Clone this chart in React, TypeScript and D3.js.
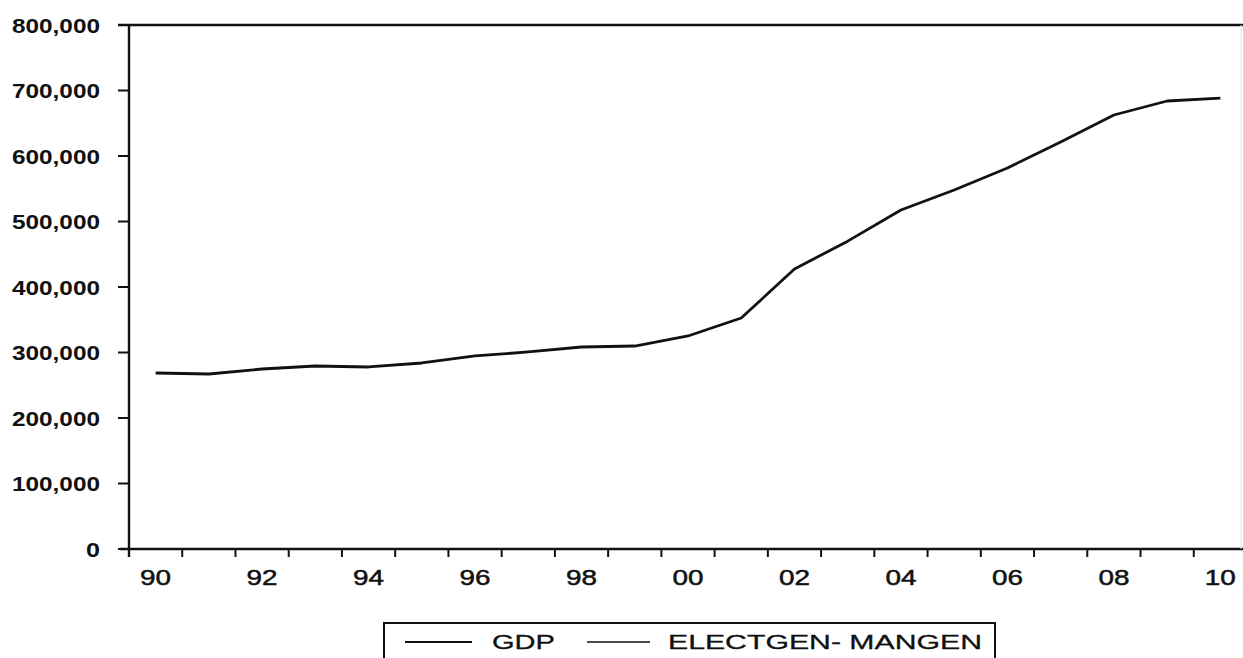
import React from "react";
import * as d3 from "d3";

// annual observations 1990..2010
const years = d3.range(1990, 2011);
const electgen = [
  268700, 267200, 274800, 279400, 277900, 284000, 294700, 300800, 308400, 309900,
  325200, 352700, 427500, 470000, 517500, 548000, 581700, 621400, 662600, 684000, 688500,
];
const yTicks = [0, 100000, 200000, 300000, 400000, 500000, 600000, 700000, 800000];
const xLabelYears = [1990, 1992, 1994, 1996, 1998, 2000, 2002, 2004, 2006, 2008, 2010];
const legendNames = ["GDP", "ELECTGEN- MANGEN"];

const W = 1243;
const H = 658;

const App = () => {
  const x = d3.scaleLinear().domain([1989.5, 2010.5]).range([129, 1247]);
  const y = d3.scaleLinear().domain([0, 800000]).range([549, 25]);
  const fmt = d3.format(",");

  const line = d3
    .line<number>()
    .x((d, i) => x(years[i]))
    .y(d => y(d));

  const top = y(800000);
  const base = y(0);
  const font = "'Liberation Sans', Arial, sans-serif";

  return (
    <svg
      width={W}
      height={H}
      style={{ position: "absolute", left: 0, top: 0, background: "#fff" }}
    >
      {/* frame */}
      <line x1={118} x2={W} y1={top} y2={top} stroke="#111" strokeWidth={2.6} />
      <line x1={129} x2={129} y1={top} y2={base + 8} stroke="#111" strokeWidth={2.4} />
      <line x1={120} x2={W} y1={base} y2={base} stroke="#111" strokeWidth={2.4} />
      <line x1={1241} x2={1241} y1={top} y2={base} stroke="#e4e4e4" strokeWidth={1} />

      {/* y axis */}
      {yTicks.map(t => {
        const label = fmt(t);
        return (
          <g key={t}>
            <line x1={118} x2={129} y1={y(t)} y2={y(t)} stroke="#111" strokeWidth={2} />
            <text
              x={100}
              y={y(t)}
              dy="0.36em"
              textAnchor="end"
              fontFamily={font}
              fontWeight="bold"
              fontSize={21}
              textLength={label.length === 1 ? 14 : 88}
              lengthAdjust="spacingAndGlyphs"
              fill="#111"
            >
              {label}
            </text>
          </g>
        );
      })}

      {/* x axis ticks at year boundaries */}
      {years.slice(0, -1).map(yr => (
        <line
          key={yr}
          x1={x(yr + 0.5)}
          x2={x(yr + 0.5)}
          y1={base}
          y2={base + 8}
          stroke="#111"
          strokeWidth={2}
        />
      ))}
      {xLabelYears.map(yr => (
        <text
          key={yr}
          x={x(yr)}
          y={585}
          textAnchor="middle"
          fontFamily={font}
          fontSize={22}
          textLength={31}
          lengthAdjust="spacingAndGlyphs"
          fill="#111"
          stroke="#111"
          strokeWidth={0.5}
        >
          {String(yr).slice(2)}
        </text>
      ))}

      {/* series */}
      <path d={line(electgen) ?? ""} fill="none" stroke="#111" strokeWidth={2.8} strokeLinejoin="round" />

      {/* legend */}
      <rect x={384} y={623} width={611} height={60} fill="none" stroke="#111" strokeWidth={2} />
      <line x1={405} x2={472} y1={642} y2={642} stroke="#111" strokeWidth={2} />
      <text
        x={492}
        y={649}
        fontFamily={font}
        fontSize={21}
        textLength={63}
        lengthAdjust="spacingAndGlyphs"
        fill="#111"
        stroke="#111"
        strokeWidth={0.3}
      >
        {legendNames[0]}
      </text>
      <line x1={587} x2={650} y1={642} y2={642} stroke="#111" strokeWidth={1.4} />
      <text
        x={668}
        y={649}
        fontFamily={font}
        fontSize={21}
        textLength={314}
        lengthAdjust="spacingAndGlyphs"
        fill="#111"
        stroke="#111"
        strokeWidth={0.3}
      >
        {legendNames[1]}
      </text>
    </svg>
  );
};

export default App;
